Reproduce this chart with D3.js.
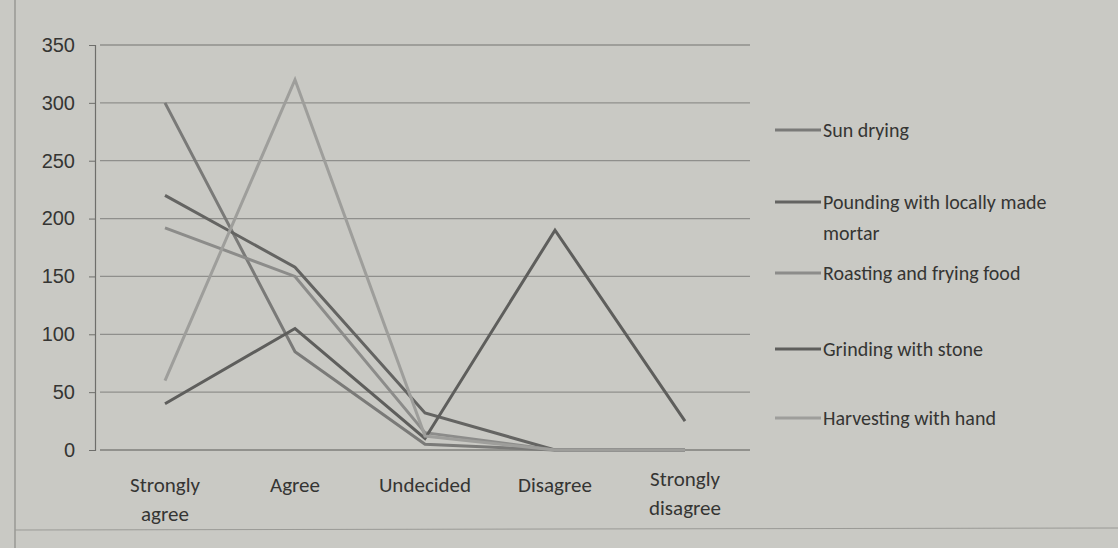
<!DOCTYPE html>
<html>
<head>
<meta charset="utf-8">
<script src="https://cdn.jsdelivr.net/npm/d3@7"></script>
<style>
  body { margin: 0; background: #c9c9c4; }
  svg { display: block; font-family: Carlito, Calibri, Lato, "Open Sans", sans-serif; }
</style>
</head>
<body>
<div class="viz"></div>
<script>
const categories = ['Strongly agree', 'Agree', 'Undecided', 'Disagree', 'Strongly disagree']
const seriesNames = ['Sun drying', 'Pounding with locally made mortar', 'Roasting and frying food', 'Grinding with stone', 'Harvesting with hand']
const sunDrying = [300, 85, 5, 0, 0]
const pounding = [220, 158, 32, 0, 0]
const roasting = [192, 150, 15, 0, 0]
const grinding = [40, 105, 10, 190, 25]
const harvesting = [60, 320, 12, 0, 0]
const yTicks = [0, 50, 100, 150, 200, 250, 300, 350]

const seriesValues = [sunDrying, pounding, roasting, grinding, harvesting]
const seriesColors = ['#7a7a78', '#646462', '#8c8c8a', '#5e5e5c', '#9e9e9b']

const width = 1118, height = 548
const margin = {top: 45, left: 100, right: 368, bottom: 98}

const svg = d3.select('.viz').append('svg')
  .attr('width', width)
  .attr('height', height)

// faint page border
svg.append('line').attr('x1', 15).attr('x2', 15).attr('y1', 0).attr('y2', 548)
  .attr('stroke', '#8d8d89').attr('stroke-width', 1.2)
svg.append('line').attr('x1', 15).attr('x2', 1118).attr('y1', 530).attr('y2', 528)
  .attr('stroke', '#9a9a96').attr('stroke-width', 1)

const x = d3.scalePoint()
  .domain(categories)
  .range([margin.left + 65, width - margin.right - 65])

const y = d3.scaleLinear()
  .domain([0, 350])
  .range([height - margin.bottom, margin.top])

// gridlines
svg.append('g')
  .selectAll('line')
  .data(yTicks)
  .join('line')
    .attr('x1', margin.left)
    .attr('x2', width - margin.right)
    .attr('y1', d => y(d))
    .attr('y2', d => y(d))
    .attr('stroke', d => d === 0 ? '#7e7e7b' : '#8f8f8c')
    .attr('stroke-width', 1.3)

// y axis
const yAxis = svg.append('g')
  .attr('transform', `translate(${margin.left - 5},0)`)
  .call(d3.axisLeft(y).tickValues(yTicks).tickSize(6).tickPadding(14))
yAxis.select('.domain').attr('stroke', '#6e6e6b').attr('stroke-width', 1.2)
yAxis.selectAll('.tick line').attr('stroke', '#6e6e6b')
yAxis.selectAll('.tick text').attr('fill', '#353533').style('font-size', '20px')

// x axis labels
const xLabels = svg.append('g')
  .selectAll('text')
  .data(categories)
  .join('text')
    .attr('x', d => x(d))
    .attr('y', height - margin.bottom + 42)
    .attr('text-anchor', 'middle')
    .attr('fill', '#353533')
    .style('font-size', '21px')

xLabels.each(function(d) {
  const words = d.split(' ')
  const t = d3.select(this)
  if (words.length > 1) {
    t.append('tspan').attr('x', x(d)).attr('dy', d === 'Strongly agree' ? 0 : -6).text(words[0])
    t.append('tspan').attr('x', x(d)).attr('dy', '1.4em').text(words[1])
  } else {
    t.text(d)
  }
})

// lines
const line = d3.line()
  .x((d, i) => x(categories[i]))
  .y(d => y(d))

svg.append('g')
  .selectAll('path')
  .data(seriesValues)
  .join('path')
    .attr('d', d => line(d))
    .attr('fill', 'none')
    .attr('stroke', (d, i) => seriesColors[i])
    .attr('stroke-width', 3)
    .attr('stroke-linejoin', 'miter')

// legend
const legendY = [130, 202, 273, 349, 418]
const legend = svg.append('g')
  .selectAll('g')
  .data(seriesNames)
  .join('g')
    .attr('transform', (d, i) => `translate(775,${legendY[i]})`)

legend.append('line')
  .attr('x1', 0).attr('x2', 46)
  .attr('stroke', (d, i) => seriesColors[i])
  .attr('stroke-width', 3)

legend.append('text')
  .attr('x', 48)
  .attr('dy', '0.35em')
  .attr('fill', '#353533')
  .style('font-size', '20px')
  .each(function(d) {
    const t = d3.select(this)
    if (d.startsWith('Pounding')) {
      t.append('tspan').text('Pounding with locally made')
      t.append('tspan').attr('x', 48).attr('dy', '1.55em').text('mortar')
    } else {
      t.text(d)
    }
  })
</script>
</body>
</html>
